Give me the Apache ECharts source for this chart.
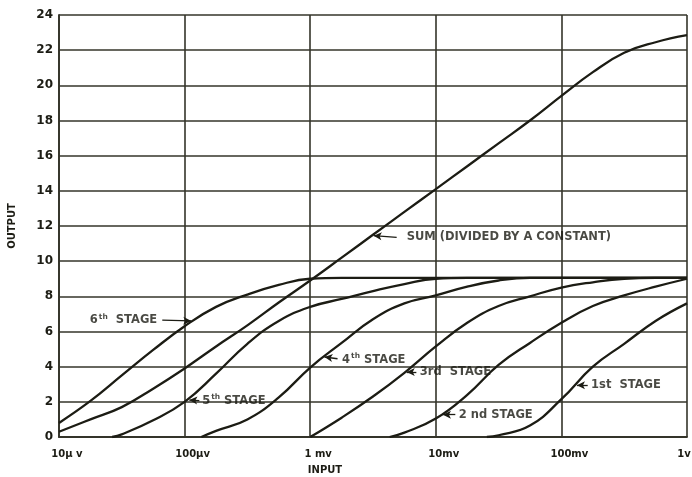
<!DOCTYPE html>
<html>
<head>
<meta charset="utf-8">
<script src="https://cdn.jsdelivr.net/npm/echarts@6/dist/echarts.min.js"></script>
<style>
  html, body { margin: 0; padding: 0; background: #ffffff; }
  #chart { width: 692px; height: 477px; }
</style>
</head>
<body>
<div id="chart"></div>
<script>
// ---- Data (input in microvolts, output in arbitrary units) ----
const inputTicks = [10, 100, 1000, 10000, 100000, 1000000];
const inputTickLabels = ['10\u00b5 v', '100\u00b5v', '1 mv', '10mv', '100mv', '1v'];
const outputMin = 0, outputMax = 24, outputStep = 2;

// readings taken at quarter-decade inputs (µV)
const sumIn  = [10, 17.8, 31.6, 56.2, 100, 178, 316, 562, 1000, 1780, 3160, 5620, 10000, 17800, 31600, 56200, 100000, 178000, 316000, 562000, 1000000];
const sumOut = [0.3, 1.0, 1.7, 2.75, 3.9, 5.15, 6.35, 7.65, 8.9, 10.2, 11.5, 12.8, 14.1, 15.4, 16.7, 18.0, 19.4, 20.75, 21.85, 22.45, 22.85];

const stage6In  = [10, 17.8, 31.6, 56.2, 100, 178, 316, 562, 1000, 1780, 3160, 1000000];
const stage6Out = [0.8, 2.05, 3.5, 4.95, 6.3, 7.4, 8.1, 8.65, 9.0, 9.05, 9.05, 9.05];

const stage5In  = [26.5, 31.6, 56.2, 100, 178, 316, 562, 1000, 1780, 3160, 5620, 10000, 17800, 1000000];
const stage5Out = [0, 0.15, 0.95, 2.0, 3.6, 5.3, 6.6, 7.4, 7.85, 8.3, 8.7, 9.0, 9.05, 9.05];

const stage4In  = [136, 178, 316, 562, 1000, 1780, 3160, 5620, 10000, 17800, 31600, 56200, 1000000];
const stage4Out = [0, 0.35, 1.0, 2.25, 3.95, 5.35, 6.7, 7.6, 8.05, 8.55, 8.9, 9.05, 9.05];

const stage3In  = [1000, 1780, 3160, 5620, 10000, 17800, 31600, 56200, 100000, 178000, 316000, 562000, 1000000];
const stage3Out = [0, 1.1, 2.3, 3.65, 5.15, 6.5, 7.45, 8.0, 8.5, 8.8, 9.0, 9.05, 9.05];

const stage2In  = [4290, 5620, 10000, 17800, 31600, 56200, 100000, 178000, 316000, 562000, 1000000];
const stage2Out = [0, 0.25, 1.05, 2.4, 4.1, 5.35, 6.5, 7.45, 8.05, 8.55, 9.0];

const stage1In  = [25500, 31600, 56200, 100000, 178000, 316000, 562000, 1000000];
const stage1Out = [0, 0.1, 0.65, 2.15, 4.0, 5.3, 6.6, 7.6];

// annotation texts, text anchors and arrow (from -> tip), in data units
const noteTexts  = ['SUM (DIVIDED BY A CONSTANT)', '6{s|th}  STAGE', '5{s|th} STAGE', '4{s|th} STAGE', '3rd  STAGE', '2 nd STAGE', '1st  STAGE'];
const noteAnchor = [[5650, 11.35], [62.8, 6.65], [133, 2.07], [1730, 4.4], [7180, 3.7], [14700, 1.27], [166000, 2.95]];
const noteSide   = ['right', 'left', 'right', 'right', 'right', 'right', 'right'];
const arrowFrom  = [[4880, 11.35], [66.4, 6.65], [131, 2.07], [1650, 4.45], [7000, 3.7], [14300, 1.27], [162000, 2.95]];
const arrowTip   = [[3200, 11.45], [113, 6.6], [109, 2.1], [1300, 4.55], [5870, 3.7], [11400, 1.27], [133000, 2.95]];

// ---- Build ----
const zip = (xs, ys) => xs.map((x, i) => [x, ys[i]]);
const INK = '#1c1c14';
const GRIDC = '#34342a';
const FONT = '"DejaVu Sans", "Liberation Sans", sans-serif';

function curve(name, xs, ys) {
  return {
    name, type: 'line', data: zip(xs, ys),
    smooth: 0.45, showSymbol: false, symbol: 'none',
    lineStyle: { color: INK, width: 2.3 }, z: 3, silent: true
  };
}

const noteData = noteTexts.map((t, i) => ({
  value: noteAnchor[i],
  label: { show: true, position: noteSide[i], distance: 2, formatter: t, color: INK }
}));

const arrowData = arrowFrom.map((f, i) => [{ coord: f }, { coord: arrowTip[i] }]);

const chart = echarts.init(document.getElementById('chart'), null, { renderer: 'canvas' });
chart.setOption({
  backgroundColor: '#ffffff',
  animation: false,
  grid: { left: 59, right: 5, top: 15, bottom: 40, containLabel: false, outerBoundsMode: 'none' },
  xAxis: {
    type: 'log', logBase: 10, min: inputTicks[0], max: inputTicks[inputTicks.length - 1],
    name: 'INPUT', nameLocation: 'middle', nameGap: 28,
    nameTextStyle: { fontFamily: FONT, fontWeight: 'bold', fontSize: 10, color: INK, padding: [0, 96, 0, 0] },
    axisLine: { show: true, lineStyle: { color: GRIDC, width: 1.8 } },
    axisTick: { show: false },
    minorTick: { show: false },
    splitLine: { show: true, lineStyle: { color: GRIDC, width: 1.6 } },
    axisLabel: {
      margin: 12, color: INK, fontFamily: FONT, fontWeight: 'bold', fontSize: 10,
      formatter: v => {
        const i = inputTicks.findIndex(t => Math.abs(Math.log10(t) - Math.log10(v)) < 1e-6);
        if (i < 0) return '';
        return i === inputTicks.length - 1 ? '{e|' + inputTickLabels[i] + '}' : '{a|' + inputTickLabels[i] + '}';
      },
      rich: {
        a: { padding: [0, 0, 0, 16], fontFamily: FONT, fontWeight: 'bold', fontSize: 10, color: INK },
        e: { padding: [0, 6, 0, 0], fontFamily: FONT, fontWeight: 'bold', fontSize: 10, color: INK }
      }
    }
  },
  yAxis: {
    type: 'value', min: outputMin, max: outputMax, interval: outputStep,
    name: 'OUTPUT', nameLocation: 'middle', nameGap: 42, nameRotate: 90,
    nameTextStyle: { fontFamily: FONT, fontWeight: 'bold', fontSize: 10, color: INK },
    axisLine: { show: true, lineStyle: { color: GRIDC, width: 1.8 } },
    axisTick: { show: false },
    splitLine: { show: true, lineStyle: { color: GRIDC, width: 1.6 } },
    axisLabel: { margin: 6, color: INK, fontFamily: FONT, fontWeight: 'bold', fontSize: 12 }
  },
  series: [
    curve('SUM', sumIn, sumOut),
    curve('6th STAGE', stage6In, stage6Out),
    curve('5th STAGE', stage5In, stage5Out),
    curve('4th STAGE', stage4In, stage4Out),
    curve('3rd STAGE', stage3In, stage3Out),
    curve('2nd STAGE', stage2In, stage2Out),
    curve('1st STAGE', stage1In, stage1Out),
    {
      name: 'notes', type: 'scatter', data: noteData, symbolSize: 0, z: 5, silent: true,
      label: {
        show: true, color: INK, fontFamily: FONT, fontWeight: 'bold', fontSize: 11.5,
        rich: { s: { fontSize: 7.5, fontWeight: 'bold', fontFamily: FONT, color: INK, verticalAlign: 'top', lineHeight: 15, padding: [0, 0, 6, 1] } }
      },
      markLine: {
        silent: true, animation: false,
        symbol: ['none', 'arrow'], symbolSize: [6, 8],
        lineStyle: { color: INK, width: 1.3, type: 'solid' },
        label: { show: false },
        data: arrowData
      }
    }
  ]
});
</script>
</body>
</html>
